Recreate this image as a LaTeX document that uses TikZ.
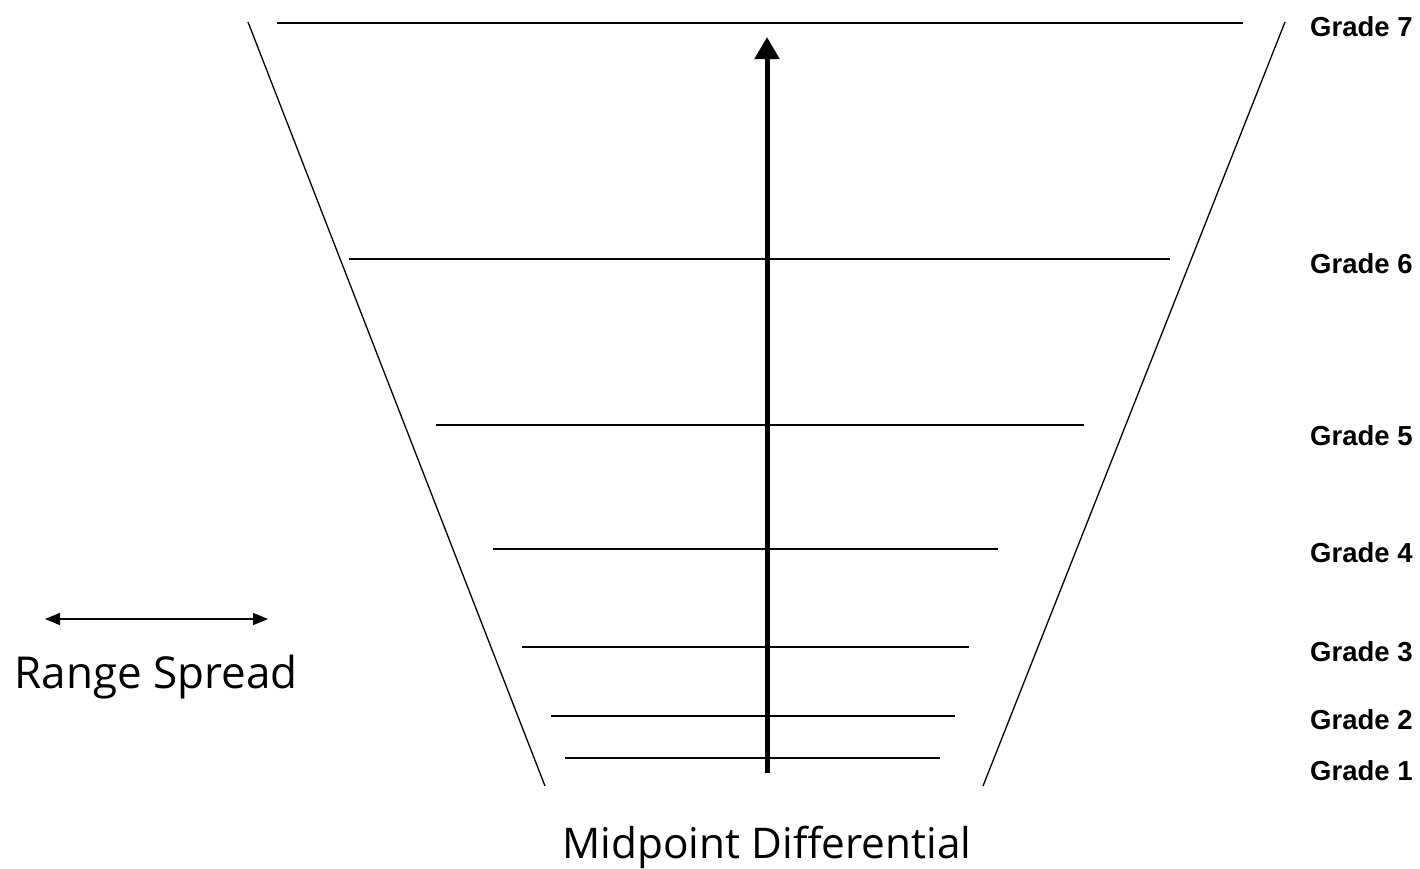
\documentclass[tikz,border=0pt]{standalone}
\usepackage{fontspec}
\setmainfont{Liberation Sans}
\newfontfamily\labelfont{Open Sans}
\usetikzlibrary{arrows.meta}
\begin{document}
\begin{tikzpicture}[x=1pt,y=-1pt,
  thinline/.style={line width=1.3pt,black},
  gradelabel/.style={anchor=west,inner sep=0pt,font=\fontsize{27.5}{30}\selectfont\bfseries},
  biglabel/.style={anchor=base,inner sep=0pt,font=\labelfont\fontsize{44}{50}\selectfont}]
\useasboundingbox (0,0) rectangle (1420,868);
% slanted sides
\coordinate (lt) at (248,22); \coordinate (lb) at (545,786);
\coordinate (rt) at (1285,22); \coordinate (rb) at (983,786);
\draw[thinline] (lt) -- (lb);
\draw[thinline] (rt) -- (rb);
% grade lines
\foreach \y/\xa/\xb [count=\i] in {758/565/940,716/551/955,647/522/969,549/493/998,425/436/1084,259/349/1170,23/277/1243}{
  \coordinate (a\i) at (\xa,\y); \coordinate (b\i) at (\xb,\y);
  \draw[thinline] (a\i) -- (b\i);
}
% labels
\node[gradelabel] (g1) at (1310,771) {Grade 1};
\node[gradelabel] (g2) at (1310,720) {Grade 2};
\node[gradelabel] (g3) at (1310,652) {Grade 3};
\node[gradelabel] (g4) at (1310,553) {Grade 4};
\node[gradelabel] (g5) at (1310,436) {Grade 5};
\node[gradelabel] (g6) at (1310,264) {Grade 6};
\node[gradelabel] (g7) at (1310,27) {Grade 7};
% vertical arrow
\coordinate (vbot) at (767,773); \coordinate (vtop) at (767,37);
\draw[line width=5pt,-{Triangle[width=24pt,length=22pt]}] (vbot) -- (vtop);
% range spread
\coordinate (rl) at (45,619); \coordinate (rr) at (268,619);
\draw[line width=1.5pt,{Triangle[width=12pt,length=15pt]}-{Triangle[width=12pt,length=15pt]}] (rl) -- (rr);
\node[biglabel] (rs) at (156,688) {Range Spread};
\node[biglabel,font=\labelfont\fontsize{42.3}{48}\selectfont] (md) at (767,858) {Midpoint Differential};
\end{tikzpicture}
\end{document}
